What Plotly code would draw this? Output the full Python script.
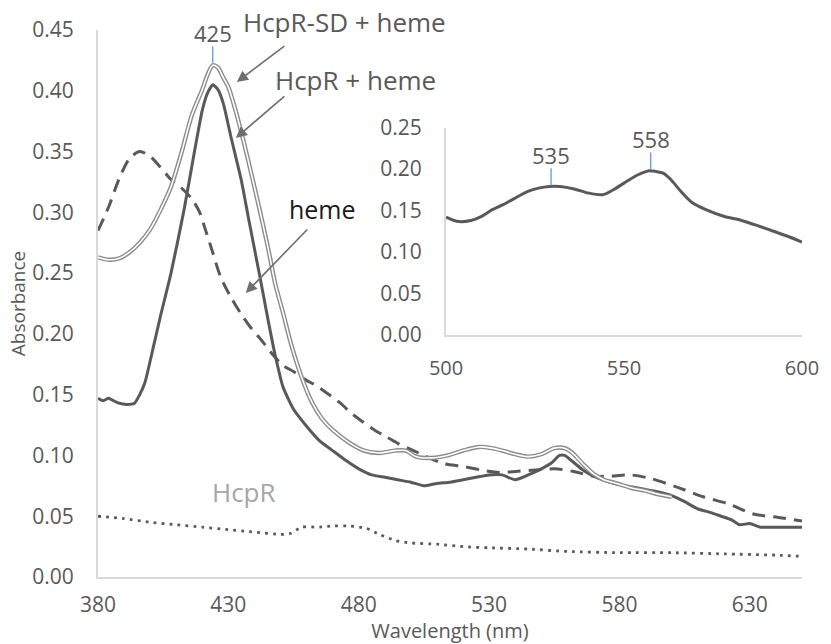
import plotly.graph_objects as go

# ---------------- data ----------------
sd_wl = [380, 384, 388, 392, 396, 400, 404, 408, 412, 416, 420, 422, 424, 426, 428, 430, 433, 436, 439,
         442, 445, 448, 451, 454, 458, 462, 466, 470, 476, 482, 488, 494, 498, 502, 508, 514, 520,
         526, 531, 535, 540, 545, 550, 555, 559, 562, 566, 570, 574, 579, 585, 590, 595, 600]
sd_abs = [0.263, 0.261, 0.262, 0.267, 0.275, 0.286, 0.302, 0.321, 0.349, 0.380, 0.401, 0.413, 0.421,
          0.419, 0.411, 0.403, 0.382, 0.357, 0.330, 0.302, 0.273, 0.241, 0.217, 0.192, 0.165, 0.144,
          0.130, 0.121, 0.111, 0.104, 0.102, 0.104, 0.104, 0.099, 0.098, 0.100, 0.104, 0.107, 0.106,
          0.104, 0.101, 0.099, 0.101, 0.106, 0.106, 0.102, 0.093, 0.085, 0.080, 0.077, 0.073, 0.071,
          0.068, 0.066]

hh_wl = [380, 382, 384, 386, 388, 391, 394, 396, 398, 401, 404, 408, 413, 417, 420, 422, 424, 426,
         428, 431, 435, 438, 442, 445, 448, 451, 455, 460, 465, 470, 475, 480, 485, 490, 495, 500,
         505, 510, 515, 520, 525, 530, 535, 540, 545, 550, 554, 557, 559, 562, 566, 570, 575, 580,
         585, 590, 595, 600, 605, 610, 615, 619, 623, 626, 630, 634, 640, 645, 650]
hh_abs = [0.147, 0.145, 0.147, 0.145, 0.143, 0.142, 0.143, 0.150, 0.160, 0.187, 0.215, 0.250, 0.302,
          0.350, 0.384, 0.398, 0.405, 0.401, 0.390, 0.362, 0.326, 0.292, 0.248, 0.214, 0.182, 0.156,
          0.138, 0.124, 0.112, 0.104, 0.096, 0.089, 0.084, 0.082, 0.080, 0.078, 0.075, 0.077, 0.078,
          0.080, 0.082, 0.084, 0.084, 0.080, 0.084, 0.089, 0.094, 0.100, 0.100, 0.095, 0.088, 0.083,
          0.079, 0.076, 0.074, 0.072, 0.070, 0.067, 0.062, 0.056, 0.053, 0.050, 0.047, 0.043, 0.044,
          0.041, 0.041, 0.041, 0.041]

heme_wl = [380, 384, 388, 392, 396, 400, 404, 408, 412, 416, 419, 421, 424, 427, 431, 435, 439, 443,
           447, 451, 455, 459, 464, 468, 473, 477, 482, 486, 490, 495, 501, 507, 513, 520, 527, 534,
           541, 548, 555, 562, 570, 577, 584, 592, 602, 612, 622, 631, 641, 650]
heme_abs = [0.285, 0.304, 0.327, 0.344, 0.350, 0.346, 0.337, 0.327, 0.320, 0.311, 0.300, 0.287, 0.267,
            0.247, 0.230, 0.216, 0.204, 0.194, 0.183, 0.174, 0.169, 0.163, 0.157, 0.151, 0.143, 0.135,
            0.127, 0.121, 0.116, 0.110, 0.104, 0.098, 0.093, 0.091, 0.088, 0.086, 0.087, 0.088, 0.089,
            0.087, 0.083, 0.083, 0.084, 0.081, 0.074, 0.066, 0.060, 0.052, 0.049, 0.046]

hcpr_wl = [380, 390, 400, 410, 420, 430, 440, 450, 454, 458, 465, 470, 476, 483, 488, 494, 500, 510,
           520, 530, 545, 560, 580, 600, 620, 640, 650]
hcpr_abs = [0.050, 0.048, 0.045, 0.043, 0.041, 0.039, 0.037, 0.035, 0.036, 0.041, 0.041, 0.042, 0.042,
            0.040, 0.035, 0.030, 0.028, 0.027, 0.025, 0.024, 0.023, 0.021, 0.020, 0.020, 0.019, 0.018,
            0.017]

inset_wl = [500, 503, 507, 510, 513, 516, 519, 523, 526, 529, 532, 536, 540, 544, 547, 550, 553, 555,
            557, 559, 561, 563, 566, 569, 573, 578, 583, 588, 592, 596, 600]
inset_abs = [0.142, 0.137, 0.138, 0.143, 0.151, 0.157, 0.164, 0.173, 0.177, 0.179, 0.179, 0.176, 0.171,
             0.169, 0.175, 0.183, 0.191, 0.195, 0.198, 0.197, 0.195, 0.188, 0.173, 0.160, 0.151, 0.143,
             0.138, 0.131, 0.125, 0.119, 0.112]

main_peak_wl = 424          # position of the "425" marker
main_peak_label = "425"
inset_peak_wl = [529.5, 557.5]
inset_peak_labels = ["535", "558"]
inset_peak_abs = [0.179, 0.198]

x_ticks = [380, 430, 480, 530, 580, 630]
y_ticks = [0.00, 0.05, 0.10, 0.15, 0.20, 0.25, 0.30, 0.35, 0.40, 0.45]
inset_x_ticks = [500, 550, 600]
inset_y_ticks = [0.00, 0.05, 0.10, 0.15, 0.20, 0.25]

# ---------------- styling ----------------
FONT = "Open Sans"
TXT = "#595959"
AX = "#d9d9d9"
DARK = "#595959"
BLUE = "#5b9bd5"

W, H = 831, 644
L, R, T, B = 98, 23, 30, 67


def pxx(x):
    return (x - L) / (W - L - R)


def pxy(y):
    return (H - B - y) / (H - T - B)


fig = go.Figure()

# main traces
fig.add_trace(go.Scatter(x=hcpr_wl, y=hcpr_abs, mode="lines",
                         line=dict(color=DARK, width=2.8, dash="2.8px,5.2px", shape="spline", smoothing=0.6),
                         showlegend=False, hoverinfo="skip"))
fig.add_trace(go.Scatter(x=heme_wl, y=heme_abs, mode="lines",
                         line=dict(color=DARK, width=3, dash="13px,8px", shape="spline", smoothing=0.8),
                         showlegend=False, hoverinfo="skip"))
fig.add_trace(go.Scatter(x=hh_wl, y=hh_abs, mode="lines",
                         line=dict(color=DARK, width=3, shape="spline", smoothing=0.5),
                         showlegend=False, hoverinfo="skip"))
fig.add_trace(go.Scatter(x=sd_wl, y=sd_abs, mode="lines",
                         line=dict(color="#8c8c8c", width=4.4, shape="spline", smoothing=0.8),
                         showlegend=False, hoverinfo="skip"))
fig.add_trace(go.Scatter(x=sd_wl, y=sd_abs, mode="lines",
                         line=dict(color="white", width=1.6, shape="spline", smoothing=0.8),
                         showlegend=False, hoverinfo="skip"))

# inset trace
fig.add_trace(go.Scatter(x=inset_wl, y=inset_abs, mode="lines", xaxis="x2", yaxis="y2",
                         line=dict(color=DARK, width=3, shape="spline", smoothing=0.8),
                         showlegend=False, hoverinfo="skip"))

tickfont = dict(family=FONT, size=21, color=TXT)

fig.update_layout(
    width=W, height=H,
    margin=dict(l=L, r=R, t=T, b=B),
    paper_bgcolor="white", plot_bgcolor="rgba(0,0,0,0)",
    xaxis=dict(range=[380, 650], tickvals=x_ticks, showgrid=False, zeroline=False,
               showline=True, linecolor=AX, linewidth=2, ticks="", tickfont=tickfont,
               ticklabelstandoff=8,
               title=dict(text="Wavelength (nm)", font=dict(family=FONT, size=20, color=TXT), standoff=0)),
    yaxis=dict(range=[0, 0.45], tickvals=y_ticks, tickformat=".2f", showgrid=False, zeroline=False,
               showline=True, linecolor=AX, linewidth=2, ticks="", tickfont=tickfont,
               ticklabelstandoff=18,
               title=dict(text="Absorbance", font=dict(family=FONT, size=19, color=TXT), standoff=2)),
    xaxis2=dict(domain=[pxx(449), 1.0], anchor="y2", range=[500, 600], tickvals=inset_x_ticks,
                showgrid=False, zeroline=False, showline=True, linecolor=AX, linewidth=2, ticks="",
                tickfont=dict(family=FONT, size=20, color=TXT), ticklabelstandoff=14),
    yaxis2=dict(domain=[pxy(335), pxy(127.5)], anchor="x2", range=[0, 0.25], tickvals=inset_y_ticks,
                tickformat=".2f", showgrid=False, zeroline=False, showline=True, linecolor=AX,
                linewidth=2, ticks="", tickfont=dict(family=FONT, size=21, color=TXT),
                ticklabelstandoff=18),
)

shapes = []
peak_val = max(sd_abs)
shapes.append(dict(type="line", xref="x", yref="y", x0=main_peak_wl, x1=main_peak_wl,
                   y0=peak_val + 0.002, y1=peak_val + 0.0155, line=dict(color=BLUE, width=1.3)))
for wl, v in zip(inset_peak_wl, inset_peak_abs):
    shapes.append(dict(type="line", xref="x2", yref="y2", x0=wl, x1=wl, y0=v + 0.001, y1=v + 0.022,
                       line=dict(color=BLUE, width=1.3)))
fig.update_layout(shapes=shapes)

anns = []
anns.append(dict(xref="x", yref="y", x=main_peak_wl, y=peak_val + 0.0155, text=main_peak_label,
                 showarrow=False, yanchor="bottom", yshift=-4,
                 font=dict(family=FONT, size=22, color=TXT)))
for wl, v, lab in zip(inset_peak_wl, inset_peak_abs, inset_peak_labels):
    anns.append(dict(xref="x2", yref="y2", x=wl, y=v + 0.022, text=lab, showarrow=False,
                     yanchor="bottom", yshift=-4, font=dict(family=FONT, size=22, color=TXT)))

labels = [
    ("HcpR-SD + heme", 347, 22, 26, TXT),
    ("HcpR + heme", 358, 80, 26, TXT),
    ("heme", 324, 209, 25, "#1a1a1a"),
    ("HcpR", 245, 492, 26, "#a6a6a6"),
]
for text, x, y, size, col in labels:
    anns.append(dict(xref="paper", yref="paper", x=pxx(x), y=pxy(y), text=text, showarrow=False,
                     xanchor="center", yanchor="middle", font=dict(family=FONT, size=size, color=col)))

arrows = [((287, 45), (238, 82)), ((287, 95), (237, 138)), ((310, 228), (247, 293))]
for (tx, ty), (hx, hy) in arrows:
    anns.append(dict(xref="paper", yref="paper", x=pxx(hx), y=pxy(hy), ax=tx - hx, ay=ty - hy,
                     text="", showarrow=True, arrowhead=2, arrowsize=1.4, arrowwidth=1.6,
                     arrowcolor="#6f6f6f", standoff=0, startstandoff=0))

fig.update_layout(annotations=anns)

fig.write_html("out.html")
